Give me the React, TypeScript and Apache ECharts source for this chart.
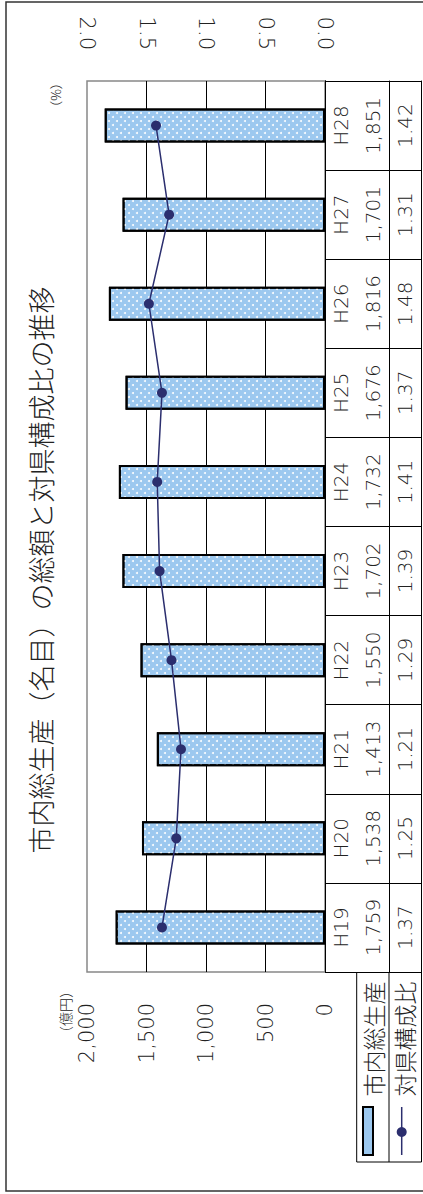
import React, { useEffect, useRef } from "react";
import * as echarts from "echarts";

const categories = ["H19", "H20", "H21", "H22", "H23", "H24", "H25", "H26", "H27", "H28"];
const grossProduct = [1759, 1538, 1413, 1550, 1702, 1732, 1676, 1816, 1701, 1851];
const prefShare = [1.37, 1.25, 1.21, 1.29, 1.39, 1.41, 1.37, 1.48, 1.31, 1.42];
const seriesNames = ["市内総生産", "対県構成比"];
const titleText = "市内総生産（名目）の総額と対県構成比の推移";
const amountAxis = { min: 0, max: 2000, interval: 500 };
const shareAxis = { min: 0, max: 2, interval: 0.5 };
const amountUnit = "（億円）";
const shareUnit = "（%）";

const NUM_FONT = "'DejaVu Sans', 'Noto Sans CJK JP', sans-serif";
const JP_FONT = "'Noto Sans CJK JP', 'Noto Sans', sans-serif";
const BAR_FILL = "#9cc8ef";
const LINE_COLOR = "#2b2e6e";
const TEXT = "#222";

export default function App() {
  const ref = useRef<HTMLDivElement>(null);
  useEffect(() => {
    if (!ref.current) return;
    const chart = echarts.init(ref.current, undefined, { renderer: "svg" });
    const decal = {
      symbol: "circle",
      symbolSize: 1,
      color: "rgba(255,255,255,0.95)",
      dashArrayX: [[2, 6], [0, 4, 2, 2]],
      dashArrayY: [2, 2],
      rotation: 0,
    };
    const tableLabel = {
      rotate: 90,
      interval: 0,
      margin: 6,
      fontSize: 20,
      fontWeight: 200,
      color: TEXT,
      fontFamily: NUM_FONT,
    };
    const rtext = (text: string, x: number, y: number, fontSize: number, weight = 300) => ({
      type: "text",
      x,
      y,
      rotation: Math.PI / 2,
      style: {
        text,
        x: 0,
        y: 0,
        align: "center",
        verticalAlign: "middle",
        textAlign: "center",
        textVerticalAlign: "middle",
        fontSize,
        fontWeight: weight,
        fontFamily: JP_FONT,
        fill: TEXT,
      },
      z: 10,
    });
    const line = (x1: number, y1: number, x2: number, y2: number, color = "#000", w = 1) => ({
      type: "line",
      shape: { x1, y1, x2, y2 },
      style: { stroke: color, lineWidth: w },
      z: 10,
    });
    chart.setOption({
      animation: false,
      backgroundColor: "#fff",
      grid: {
        left: 87,
        right: 98,
        top: 81,
        bottom: 222,
        show: true,
        borderColor: "#888",
        borderWidth: 1.5,
        backgroundColor: "transparent",
      },
      xAxis: [
        {
          type: "value",
          position: "bottom",
          inverse: true,
          min: amountAxis.min,
          max: amountAxis.max,
          interval: amountAxis.interval,
          axisLine: { show: false },
          axisTick: { show: false },
          splitLine: { show: true, showMinLine: false, showMaxLine: false, lineStyle: { color: "#000", width: 1 } },
          axisLabel: {
            rotate: 90,
            margin: 31,
            fontSize: 21,
            fontWeight: 200,
            color: TEXT,
            fontFamily: NUM_FONT,
            formatter: (v: number) => v.toLocaleString("en-US"),
          },
        },
        {
          type: "value",
          position: "top",
          inverse: true,
          min: shareAxis.min,
          max: shareAxis.max,
          interval: shareAxis.interval,
          axisLine: { show: false },
          axisTick: { show: false },
          splitLine: { show: false },
          axisLabel: {
            rotate: 90,
            margin: 31,
            fontSize: 21,
            fontWeight: 200,
            color: TEXT,
            fontFamily: NUM_FONT,
            formatter: (v: number) => v.toFixed(1),
          },
        },
      ],
      yAxis: [
        {
          type: "category",
          data: categories,
          position: "right",
          offset: 0,
          axisLine: { show: true, lineStyle: { color: "#000", width: 1 } },
          axisTick: { show: true, length: 96, lineStyle: { color: "#000", width: 1 } },
          axisLabel: tableLabel,
        },
        {
          type: "category",
          data: categories,
          position: "right",
          offset: 31.7,
          axisLine: { show: true, lineStyle: { color: "#000", width: 1 } },
          axisTick: { show: false },
          axisLabel: {
            ...tableLabel,
            formatter: (_v: string, i: number) => grossProduct[i].toLocaleString("en-US"),
          },
        },
        {
          type: "category",
          data: categories,
          position: "right",
          offset: 64,
          axisLine: { show: true, lineStyle: { color: "#000", width: 1 } },
          axisTick: { show: false },
          axisLabel: {
            ...tableLabel,
            formatter: (_v: string, i: number) => prefShare[i].toFixed(2),
          },
        },
        {
          type: "category",
          data: categories,
          position: "right",
          offset: 96.5,
          axisLine: { show: true, lineStyle: { color: "#000", width: 1 } },
          axisTick: { show: false },
          axisLabel: { show: false },
        },
      ],
      series: [
        {
          name: seriesNames[0],
          type: "bar",
          xAxisIndex: 0,
          yAxisIndex: 0,
          data: grossProduct,
          barWidth: 34,
          itemStyle: { color: BAR_FILL, borderColor: "#000", borderWidth: 2, decal },
        },
        {
          name: seriesNames[1],
          type: "line",
          xAxisIndex: 1,
          yAxisIndex: 0,
          data: prefShare,
          symbol: "circle",
          symbolSize: 10,
          lineStyle: { color: LINE_COLOR, width: 1.5 },
          itemStyle: { color: LINE_COLOR },
          z: 5,
        },
      ],
      graphic: [
        {
          type: "rect",
          shape: { x: 6, y: 2, width: 430, height: 1189 },
          style: { fill: "none", stroke: "#333", lineWidth: 1.5 },
          z: 10,
        },
        line(356.7, 972, 356.7, 1162),
        line(389, 972, 389, 1162),
        line(421.5, 972, 421.5, 1162),
        line(356.7, 1162, 421.5, 1162),
        {
          type: "rect",
          shape: { x: 363, y: 1107, width: 10, height: 48 },
          style: { fill: BAR_FILL, stroke: "#000", lineWidth: 2 },
          z: 10,
        },
        line(401.7, 1107, 401.7, 1155, LINE_COLOR, 1.5),
        {
          type: "circle",
          shape: { cx: 401.7, cy: 1132, r: 5 },
          style: { fill: LINE_COLOR },
          z: 10,
        },
        rtext(seriesNames[0], 372.5, 1039, 23),
        rtext(seriesNames[1], 404, 1039, 23),
        rtext(titleText, 40, 570, 27),
        rtext(amountUnit, 64.5, 1012, 14),
        rtext(shareUnit, 55, 95, 13),
      ],
    });
    return () => chart.dispose();
  }, []);
  return (
    <div
      ref={ref}
      style={{ position: "absolute", left: 0, top: 0, width: 423, height: 1194 }}
    />
  );
}
